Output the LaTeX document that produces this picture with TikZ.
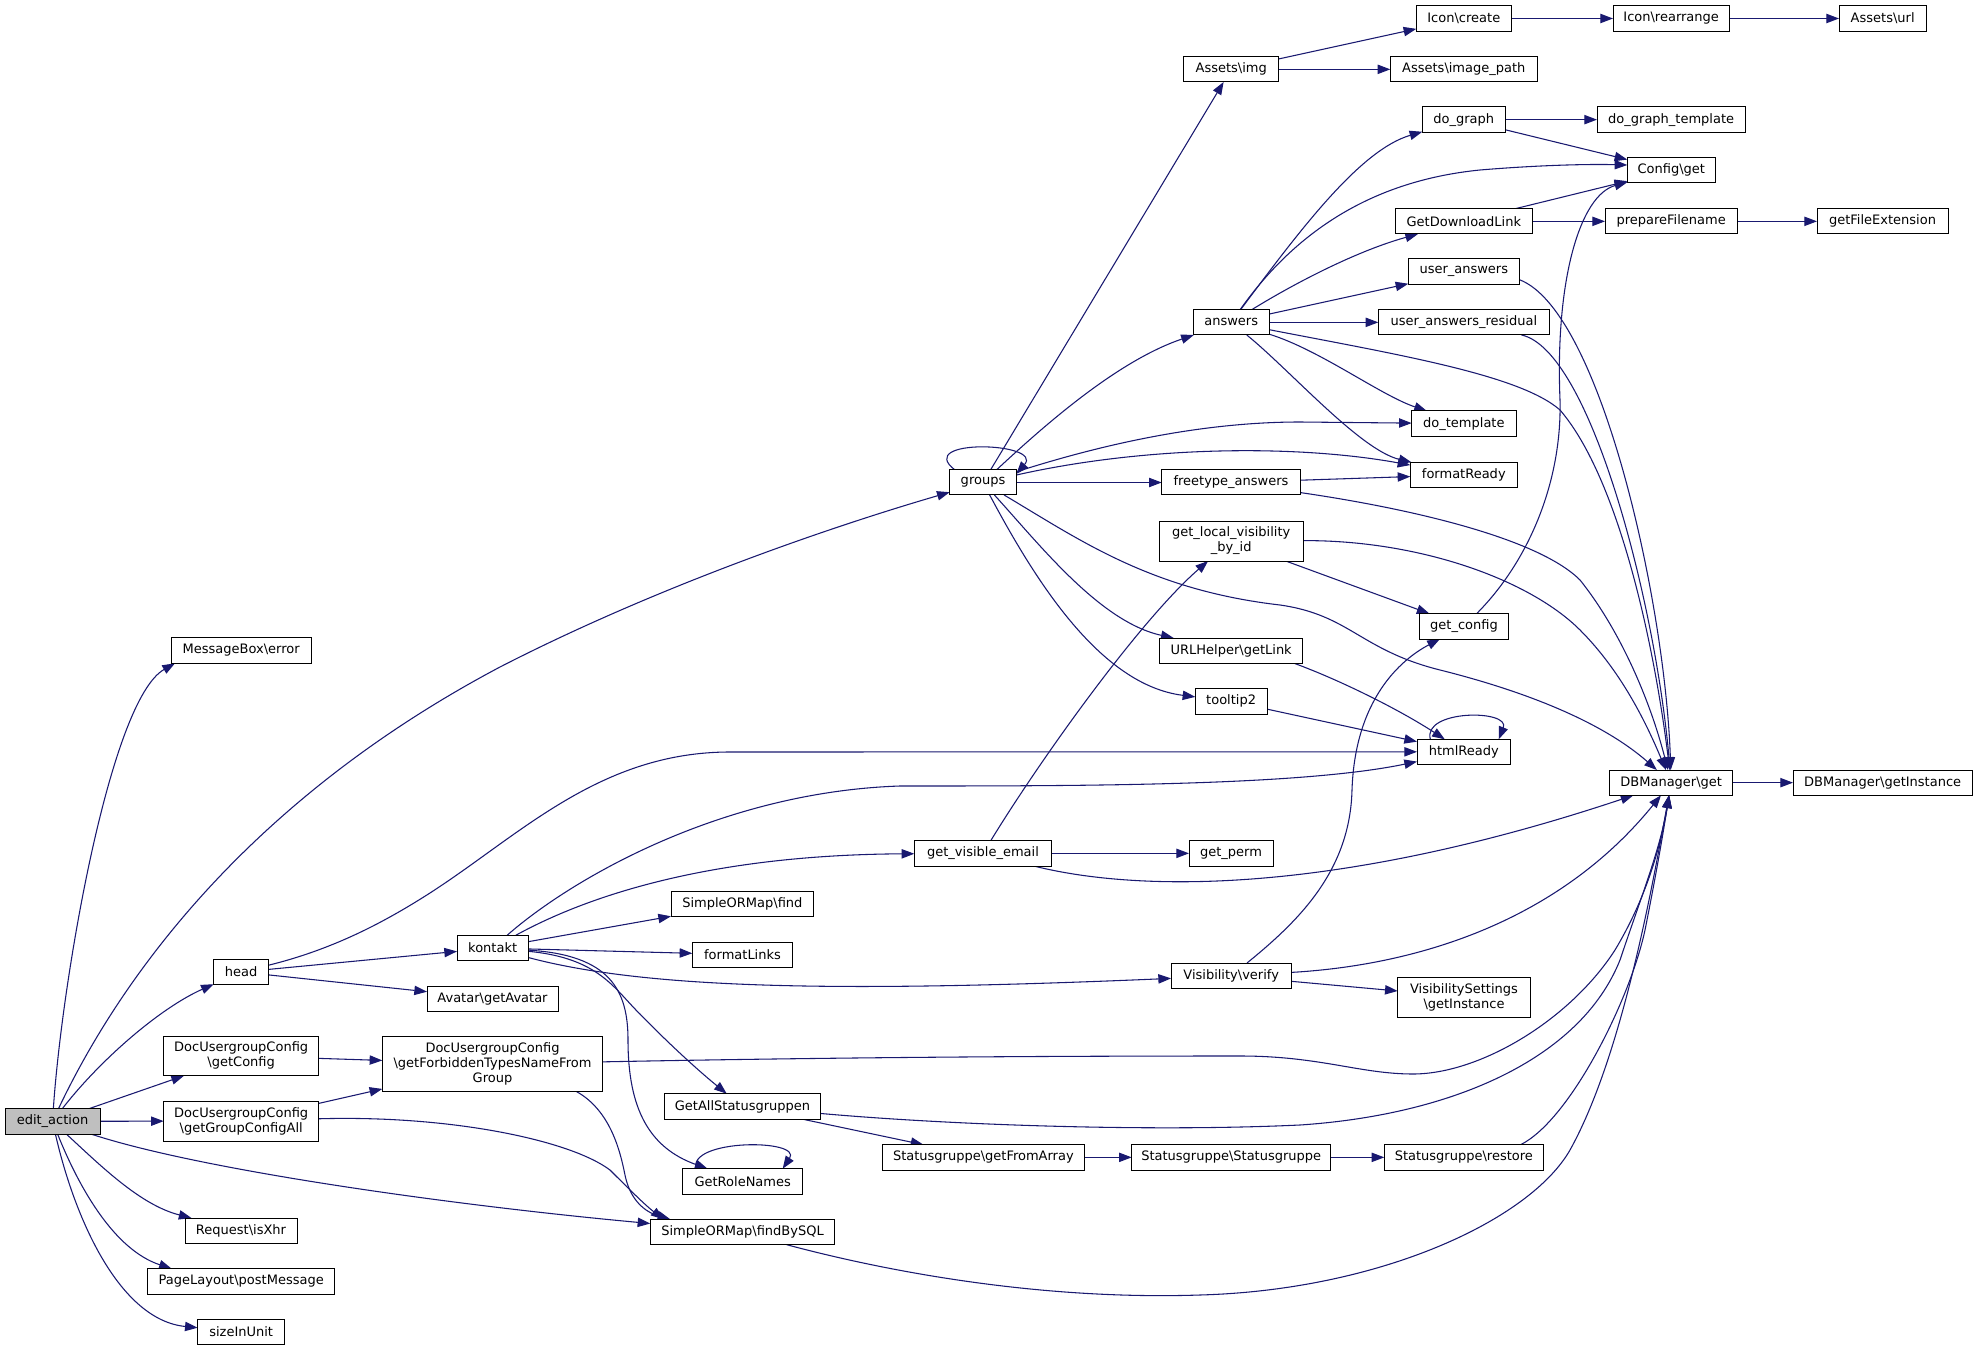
\documentclass[tikz,border=0pt]{standalone}
\usepackage{fontspec}
\setmainfont{DejaVu Sans}
\usetikzlibrary{arrows.meta}
\definecolor{edgec}{HTML}{191970}
\definecolor{rootfill}{HTML}{BFBFBF}
\pgfdeclarelayer{bg}
\pgfsetlayers{bg,main}
\newcommand\nbox[7][]{\node[box,#1,minimum width={(#5-#3)*0.75pt},minimum height={(#6-#4)*0.75pt}] (#2) at ({(#3+#5)/2},{(#4+#6)/2}) {#7};}
\newcommand\bs{\textbackslash}
\begin{document}
\begin{tikzpicture}[x=0.75pt,y=-0.75pt,
  box/.style={draw=black,line width=0.75pt,fill=white,inner sep=0pt,outer sep=0pt,align=center,font=\fontsize{9.75pt}{11.25pt}\selectfont},
  edge/.style={draw=edgec,line width=0.8pt,-{Triangle[length=9.5pt,width=7pt]}}]
\useasboundingbox (0,0) rectangle (1977,1351);
% nodes
\nbox[fill=rootfill]{ea}{5}{1108.7}{100}{1134}{edit\_action}
\nbox{mb}{171}{637.7}{311.3}{663.3}{MessageBox\bs error}
\nbox{grp}{949.7}{470}{1016.3}{495}{groups}
\nbox{aimg}{1183.7}{56.7}{1278.7}{82}{Assets\bs img}
\nbox{icr}{1416.3}{5.7}{1511.3}{31.3}{Icon\bs create}
\nbox{irr}{1613}{5.7}{1729.3}{31.3}{Icon\bs rearrange}
\nbox{aurl}{1839}{5.7}{1926.3}{31.3}{Assets\bs url}
\nbox{aip}{1390.3}{56.7}{1537.3}{82}{Assets\bs image\_path}
\nbox{dg}{1422.3}{107}{1505.3}{132.3}{do\_graph}
\nbox{dgt}{1597}{107}{1745.3}{132.3}{do\_graph\_template}
\nbox{cfg}{1627.3}{157.7}{1715.3}{183}{Config\bs get}
\nbox{gdl}{1395}{208.7}{1532.7}{234}{GetDownloadLink}
\nbox{pf}{1605}{208.7}{1737.3}{234}{prepareFilename}
\nbox{gfe}{1817}{208.7}{1948}{234}{getFileExtension}
\nbox{ua}{1408.3}{259}{1519.3}{284.3}{user\_answers}
\nbox{uar}{1378.3}{309.7}{1549.3}{335}{user\_answers\_residual}
\nbox{ans}{1193}{309.7}{1269.3}{335}{answers}
\nbox{dt}{1411.7}{411}{1516}{436.3}{do\_template}
\nbox{fr}{1410.3}{462.3}{1517.3}{487.3}{formatReady}
\nbox{fta}{1161.7}{470}{1300.3}{495}{freetype\_answers}
\nbox{glv}{1159.3}{521}{1303}{561}{get\_local\_visibility\\\_by\_id}
\nbox{gc}{1419.3}{613.7}{1508.7}{639}{get\_config}
\nbox{url}{1159.7}{638}{1302.7}{663}{URLHelper\bs getLink}
\nbox{tt}{1195.3}{688.7}{1267}{714}{tooltip2}
\nbox{hr}{1417}{739.3}{1510.7}{764.3}{htmlReady}
\nbox{dbg}{1609.7}{770}{1732.7}{795.3}{DBManager\bs get}
\nbox{dbi}{1793}{770}{1972.3}{795.3}{DBManager\bs getInstance}
\nbox{gve}{914.3}{840.7}{1051.7}{866}{get\_visible\_email}
\nbox{gp}{1189}{840.7}{1273}{866}{get\_perm}
\nbox{sof}{671}{891}{813.7}{916.3}{SimpleORMap\bs find}
\nbox{hd}{213.7}{959.3}{268.7}{984.7}{head}
\nbox{kt}{457}{935.3}{528.3}{960.7}{kontakt}
\nbox{av}{427}{986}{558}{1011.3}{Avatar\bs getAvatar}
\nbox{fl}{692.3}{942}{792.7}{967.3}{formatLinks}
\nbox{vv}{1171}{963}{1291.3}{988.7}{Visibility\bs verify}
\nbox{vs}{1397.7}{977}{1530.3}{1017}{VisibilitySettings\\\bs getInstance}
\nbox{dgc}{163.7}{1036}{318.7}{1075.7}{DocUsergroupConfig\\\bs getConfig}
\nbox{dgf}{382.3}{1036.7}{602.7}{1091.3}{DocUsergroupConfig\\\bs getForbiddenTypesNameFrom\\Group}
\nbox{dga}{163.7}{1101}{318.7}{1141}{DocUsergroupConfig\\\bs getGroupConfigAll}
\nbox{gas}{664.3}{1093.7}{820.7}{1119.3}{GetAllStatusgruppen}
\nbox{grn}{682.7}{1168.7}{802.7}{1194}{GetRoleNames}
\nbox{sfb}{650.3}{1219.3}{834.7}{1244.7}{SimpleORMap\bs findBySQL}
\nbox{sga}{882.7}{1144.7}{1084}{1170}{Statusgruppe\bs getFromArray}
\nbox{sgs}{1131.7}{1144.7}{1330.7}{1170}{Statusgruppe\bs Statusgruppe}
\nbox{sgr}{1384.3}{1144.7}{1543.3}{1170}{Statusgruppe\bs restore}
\nbox{rx}{185}{1218}{297}{1243}{Request\bs isXhr}
\nbox{pl}{147.7}{1268.7}{334.7}{1294}{PageLayout\bs postMessage}
\nbox{siu}{197.7}{1319.3}{284.7}{1344.7}{sizeInUnit}
\begin{pgfonlayer}{bg}
\fill[white] (0,0) rectangle (1977,1351);
% edit_action
\draw[edge] (ea) .. controls (62,980) and (110,700) .. ([xshift=3pt]mb.south west);
\draw[edge] (ea) .. controls (110,1000) and (230,810) .. (500,667) .. controls (650,590) and (820,530) .. (grp);
\draw[edge] (ea) .. controls (100,1060) and (160,1008) .. (hd);
\draw[edge] (ea) -- (dgc);
\draw[edge] (ea) -- (dga);
\draw[edge] (ea) .. controls (200,1170) and (450,1205) .. (sfb);
\draw[edge] (ea) .. controls (100,1165) and (140,1205) .. (rx);
\draw[edge] (ea) .. controls (80,1190) and (115,1250) .. ([xshift=18pt]pl.north west);
\draw[edge] (ea) .. controls (75,1220) and (120,1320) .. (siu);
% head
\draw[edge] (hd) .. controls (330,950) and (380,925) .. (430,893) .. controls (520,835) and (600,752) .. (730,752) -- (hr);
\draw[edge] (hd) -- (kt);
\draw[edge] (hd) -- (av);
% kontakt
\draw[edge] (kt) .. controls (570,880) and (720,792) .. (900,786) .. controls (1080,786) and (1300,786) .. (hr);
\draw[edge] (kt) .. controls (580,900) and (700,855) .. (gve);
\draw[edge] (kt) -- (sof);
\draw[edge] (kt) -- (fl);
\draw[edge] (kt) .. controls (650,990) and (850,992) .. (vv);
\draw[edge] (kt) .. controls (600,958) and (615,990) .. (640,1014) .. controls (670,1045) and (700,1072) .. (gas);
\draw[edge] (kt) .. controls (610,955) and (628,990) .. (628,1040) .. controls (628,1110) and (650,1148) .. (grn);
\draw[edge] ([xshift=10pt]grn.north west) .. controls +(-8,-30) and +(20,-30) .. ([xshift=-15pt]grn.north east);
% groups
\draw[edge] ([xshift=4pt]grp.north west) .. controls +(-42,-32) and +(28,-32) .. ([yshift=-3pt]grp.north east);
\draw[edge] (grp) -- (aimg);
\draw[edge] (grp) .. controls (1050,420) and (1120,360) .. (ans);
\draw[edge] (grp) .. controls (1100,445) and (1200,422) .. (1300,422) -- (dt);
\draw[edge] (grp) .. controls (1150,445) and (1300,445) .. (fr);
\draw[edge] (grp) -- (fta);
\draw[edge] (grp) .. controls (1040,545) and (1100,622) .. (url);
\draw[edge] (grp) .. controls (1035,580) and (1100,685) .. (tt);
\draw[edge] (grp) .. controls (1080,540) and (1150,590) .. (1280,605) .. controls (1350,615) and (1360,650) .. (1440,670) .. controls (1520,690) and (1600,720) .. (dbg);
% answers
\draw[edge] (ans) .. controls (1300,230) and (1360,150) .. (dg);
\draw[edge] (ans) .. controls (1300,225) and (1380,180) .. (1480,170) .. controls (1540,165) and (1590,164) .. ([yshift=4pt]cfg.west);
\draw[edge] (ans) .. controls (1300,280) and (1360,250) .. (gdl);
\draw[edge] (ans) -- (ua);
\draw[edge] (ans) -- (uar);
\draw[edge] (ans) .. controls (1400,355) and (1520,375) .. (1560,410) .. controls (1620,480) and (1655,650) .. (dbg);
\draw[edge] (ans) .. controls (1320,350) and (1380,395) .. (dt);
\draw[edge] (ans) .. controls (1290,370) and (1360,450) .. (fr);
% others
\draw[edge] (dg) -- (dgt);
\draw[edge] (dg) -- (cfg);
\draw[edge] (gdl) -- (cfg);
\draw[edge] (gdl) -- (pf);
\draw[edge] (pf) -- (gfe);
\draw[edge] (aimg) -- (icr);
\draw[edge] (aimg) -- (aip);
\draw[edge] (icr) -- (irr);
\draw[edge] (irr) -- (aurl);
\draw[edge] ([yshift=-6pt]ua.east) .. controls (1600,310) and (1665,600) .. (dbg);
\draw[edge] (uar) .. controls (1590,350) and (1655,600) .. (dbg);
\draw[edge] (fta) -- (fr);
\draw[edge] (fta) .. controls (1420,510) and (1540,540) .. (1580,580) .. controls (1620,630) and (1650,700) .. (dbg);
\draw[edge] (glv) -- (gc);
\draw[edge] (glv) .. controls (1420,540) and (1530,580) .. (1580,630) .. controls (1620,670) and (1645,720) .. (dbg);
\draw[edge] (gc) .. controls (1530,560) and (1562,480) .. (1560,400) .. controls (1555,280) and (1580,195) .. (cfg);
\draw[edge] ([xshift=-7pt]url.south east) .. controls (1340,680) and (1400,710) .. (hr);
\draw[edge] (tt) -- (hr);
\draw[edge] ([xshift=10pt]hr.north west) .. controls +(-8,-30) and +(12,-30) .. ([xshift=-9pt]hr.north east);
\draw[edge] (gve) .. controls (1040,760) and (1140,620) .. (glv);
\draw[edge] (gve) -- (gp);
\draw[edge] (gve) .. controls (1150,895) and (1350,890) .. (dbg);
\draw[edge] (vv) .. controls (1300,920) and (1350,870) .. (1352,790) .. controls (1355,700) and (1400,660) .. (gc);
\draw[edge] (vv) .. controls (1420,965) and (1560,920) .. (dbg);
\draw[edge] (vv) -- (vs);
\draw[edge] (dgc) -- (dgf);
\draw[edge] (dga) -- (dgf);
\draw[edge] (dga) .. controls (450,1115) and (570,1140) .. (610,1170) .. controls (630,1190) and (645,1205) .. ([xshift=10pt]sfb.north west);
\draw[edge] ([xshift=-20pt]dgf.south east) .. controls (610,1110) and (620,1150) .. (625,1175) .. controls (630,1200) and (645,1212) .. ([xshift=15pt]sfb.north west);
\draw[edge] (dgf) .. controls (800,1058) and (1000,1056) .. (1240,1056) .. controls (1320,1056) and (1360,1074) .. (1413,1074) .. controls (1480,1074) and (1570,1020) .. (1615,950) .. controls (1645,900) and (1660,850) .. (dbg);
\draw[edge] (gas) .. controls (950,1125) and (1150,1132) .. (1300,1125) .. controls (1450,1115) and (1580,1060) .. (1620,960) .. controls (1640,900) and (1660,850) .. (dbg);
\draw[edge] (gas) -- (sga);
\draw[edge] (sga) -- (sgs);
\draw[edge] (sgs) -- (sgr);
\draw[edge] ([xshift=-17pt]sgr.north east) .. controls (1570,1120) and (1630,1000) .. (1645,930) .. controls (1655,880) and (1662,840) .. (dbg);
\draw[edge] ([xshift=-36pt]sfb.south east) .. controls (900,1275) and (1050,1300) .. (1200,1295) .. controls (1380,1290) and (1530,1220) .. (1570,1150) .. controls (1620,1060) and (1650,900) .. (dbg);
\draw[edge] (dbg) -- (dbi);
\end{pgfonlayer}
\end{tikzpicture}
\end{document}
